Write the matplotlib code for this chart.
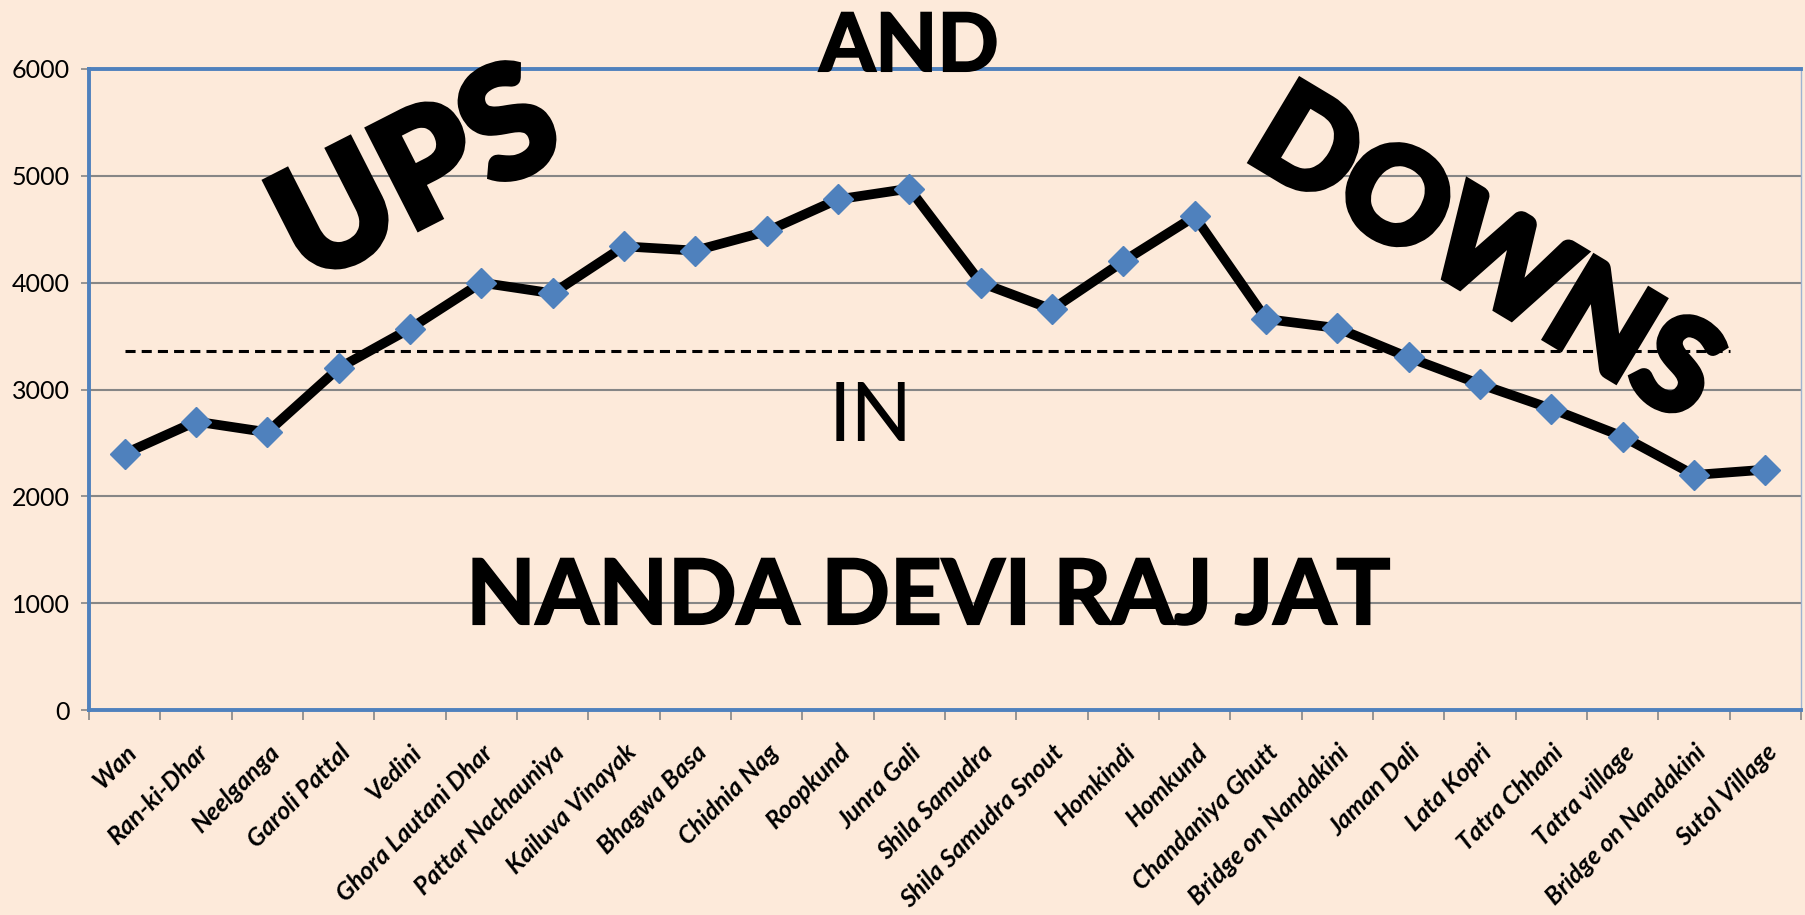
import matplotlib
matplotlib.use('Agg')
import matplotlib.pyplot as plt
import matplotlib.patheffects as pe
import numpy as np

# stages of the yatra and their altitude (m)
places = ['Wan', 'Ran-ki-Dhar', 'Neelganga', 'Garoli Pattal', 'Vedini',
          'Ghora Lautani Dhar', 'Pattar Nachauniya', 'Kailuva Vinayak',
          'Bhagwa Basa', 'Chidnia Nag', 'Roopkund', 'Junra Gali',
          'Shila Samudra', 'Shila Samudra Snout', 'Homkindi', 'Homkund',
          'Chandaniya Ghutt', 'Bridge on Nandakini', 'Jaman Dali', 'Lata Kopri',
          'Tatra Chhani', 'Tatra village', 'Bridge on Nandakini', 'Sutol Village']
altitude_m = [2400, 2700, 2600, 3200, 3570, 4000, 3900, 4340, 4300, 4480,
              4780, 4880, 4000, 3750, 4200, 4620, 3660, 3575, 3300, 3050,
              2820, 2560, 2200, 2250]
reference_level = 3360
reference_span = (0, 22.5)
y_ticks = [0, 1000, 2000, 3000, 4000, 5000, 6000]

BG = '#FDEADA'
BLUE = '#4F81BD'
FONT = 'Lato'

fig = plt.figure(figsize=(18.05, 9.15), dpi=100, facecolor=BG)
ax = fig.add_axes([0.0493, 0.224, 0.9485, 0.7006])
ax.set_facecolor(BG)

x = np.arange(len(places))
ax.plot(x, altitude_m, '-', color='black', linewidth=7, marker='D',
        markersize=15.5, markerfacecolor=BLUE, markeredgecolor=BLUE, zorder=4)
ax.hlines(reference_level, *reference_span, colors='black', linewidth=2.2,
          linestyles=(0, (3.3, 2.0)), zorder=3)

ax.set_xlim(-0.5, len(places) - 0.5)
ax.set_ylim(0, 6000)
ax.set_yticks(y_ticks)
ax.set_yticklabels([str(v) for v in y_ticks], family=FONT, fontsize=18)
ax.grid(axis='y', color='#868686', linewidth=1.5)
ax.set_axisbelow(True)

# tick marks between categories, labels at the category centres
ax.set_xticks(np.arange(-0.5, len(places), 1.0))
ax.set_xticklabels([])
ax.set_xticks(x, minor=True)
ax.set_xticklabels(places, minor=True, rotation=45, ha='right', va='top',
                   rotation_mode='anchor', family=FONT, fontsize=18,
                   fontweight='bold', fontstyle='italic')
ax.tick_params(axis='x', which='major', length=7, width=1.2, color='#868686')
ax.tick_params(axis='x', which='minor', length=0, pad=22)
ax.tick_params(axis='y', length=6, width=1.2, color='#868686', pad=8)

for side in ['top', 'left', 'bottom']:
    ax.spines[side].set_color(BLUE)
    ax.spines[side].set_linewidth(2.8)
ax.spines['right'].set_color('#9DB3D3')
ax.spines['right'].set_linewidth(1.0)

# word-art style overlay text (stroke to get an Arial Black weight)
heavy = [pe.withStroke(linewidth=5, foreground='black', joinstyle='miter')]
fig.text(0.2316, 0.805, 'UPS', rotation=27, ha='center', va='center',
         family=FONT, fontweight='black', fontsize=110, zorder=10,
         path_effects=heavy)
fig.text(0.822, 0.719, 'DOWNS', rotation=-31, ha='center', va='center',
         family=FONT, fontweight='black', fontsize=94, zorder=10,
         path_effects=heavy)
fig.text(0.5036, 0.9224, 'AND', ha='center', va='baseline',
         family=FONT, fontweight='bold', fontsize=58, zorder=10,
         path_effects=[pe.withStroke(linewidth=1.5, foreground='black',
                                     joinstyle='miter')])
fig.text(0.4826, 0.518, 'IN', ha='center', va='baseline',
         family=FONT, fontsize=58, zorder=10)
fig.text(0.514, 0.318, 'NANDA DEVI RAJ JAT', ha='center', va='baseline',
         family=FONT, fontweight='bold', fontsize=65, zorder=10,
         path_effects=[pe.withStroke(linewidth=1.5, foreground='black',
                                     joinstyle='miter')])

fig.savefig('out.png', dpi=100, facecolor=BG)
